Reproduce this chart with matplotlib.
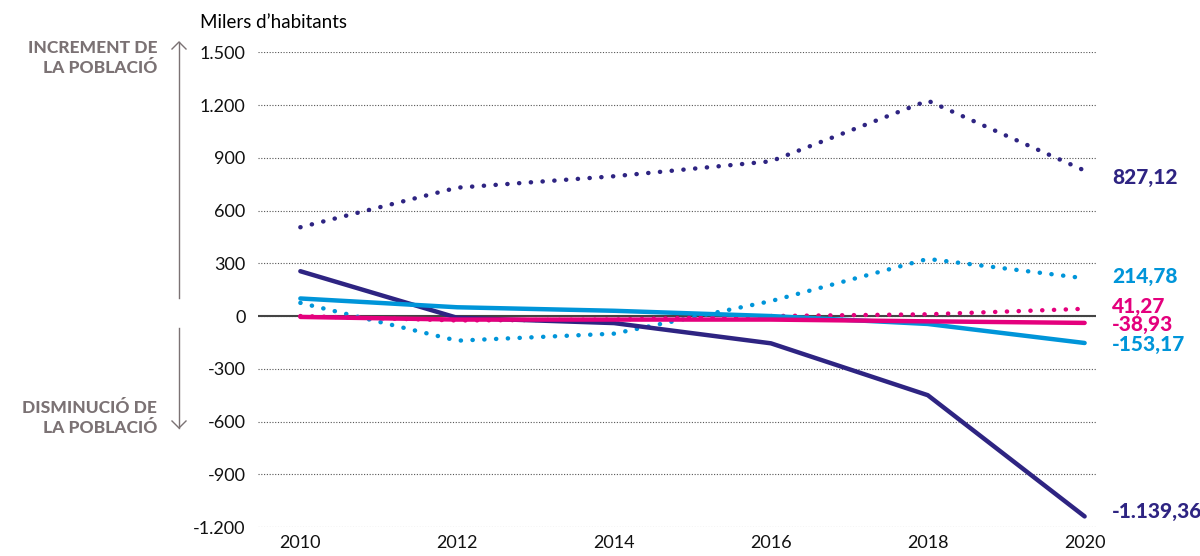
import numpy as np
import matplotlib.pyplot as plt
from matplotlib.ticker import FuncFormatter

plt.rcParams['font.family'] = ['Lato', 'DejaVu Sans']

# dades (milers d'habitants)
anys = [2010, 2012, 2014, 2016, 2018, 2020]
lila_punts = [505, 730, 795, 880, 1225, 827.12]
lila_linia = [255, -10, -40, -155, -450, -1139.36]
blau_punts = [75, -140, -100, 85, 325, 214.78]
blau_linia = [100, 50, 30, 0, -45, -153.17]
rosa_punts = [0, -25, -20, 0, 10, 41.27]
rosa_linia = [-5, -20, -20, -20, -30, -38.93]

etiquetes = ["827,12", "214,78", "41,27", "-38,93", "-153,17", "-1.139,36"]
pos_etiq = [790, 225, 55, -48, -160, -1110]

lila = '#2e2482'
blau = '#0095d9'
rosa = '#e4007d'
gris = '#7b7274'

fig = plt.figure(figsize=(12, 5.56), dpi=100)
ax = fig.add_axes([0.215, 0.052, 0.698, 0.854])

punts = (0, (0.05, 2.6))
ax.plot(anys, lila_punts, color=lila, lw=3.2, ls=punts, dash_capstyle='round', clip_on=False, zorder=3)
ax.plot(anys, blau_punts, color=blau, lw=3.2, ls=punts, dash_capstyle='round', clip_on=False, zorder=3)
ax.plot(anys, rosa_punts, color=rosa, lw=3.2, ls=punts, dash_capstyle='round', clip_on=False, zorder=3)
ax.plot(anys, lila_linia, color=lila, lw=3.2, solid_capstyle='round', clip_on=False, zorder=4)
ax.plot(anys, blau_linia, color=blau, lw=3.2, solid_capstyle='round', clip_on=False, zorder=4)
ax.plot(anys, rosa_linia, color=rosa, lw=3.2, solid_capstyle='round', clip_on=False, zorder=4)

colors_etiq = [lila, blau, rosa, rosa, blau, lila]
for txt, y, c in zip(etiquetes, pos_etiq, colors_etiq):
    ax.text(2020.35, y, txt, color=c, fontsize=15, fontweight='black',
            va='center', ha='left', clip_on=False)

ax.set_xlim(2009.46, 2020.14)
ax.set_ylim(-1200, 1500)
ax.set_xticks(anys)
ax.set_yticks(np.arange(-1200, 1501, 300))
ax.yaxis.set_major_formatter(FuncFormatter(lambda v, p: f"{int(v):,}".replace(",", ".")))
ax.tick_params(length=0, labelsize=13, colors='#111111')
ax.tick_params(axis='y', pad=9)
ax.tick_params(axis='x', pad=6)
for s in ax.spines.values():
    s.set_visible(False)
ax.grid(axis='y', color='#555555', ls=(0, (1, 1.5)), lw=0.8)
ax.axhline(0, color='#444444', lw=1.5, zorder=2)

fig.text(200/1200, 1 - 22/556, "Milers d\u2019habitants", fontsize=13.5, va='center', ha='left')

# fletxes laterals
fig.text(157/1200, 1 - 58/556, "INCREMENT DE\nLA POBLACIÓ", color=gris, fontsize=12.5,
         fontweight='black', ha='right', va='center', linespacing=1.3)
fig.text(157/1200, 1 - 418/556, "DISMINUCIÓ DE\nLA POBLACIÓ", color=gris, fontsize=12.5,
         fontweight='black', ha='right', va='center', linespacing=1.3)
fig.add_artist(plt.Line2D([179/1200, 179/1200], [1 - 298/556, 1 - 42/556], color=gris, lw=1))
fig.add_artist(plt.Line2D([172/1200, 179/1200, 186/1200], [1 - 49/556, 1 - 42/556, 1 - 49/556], color=gris, lw=1))
fig.add_artist(plt.Line2D([179/1200, 179/1200], [1 - 328/556, 1 - 428/556], color=gris, lw=1))
fig.add_artist(plt.Line2D([172/1200, 179/1200, 186/1200], [1 - 421/556, 1 - 428/556, 1 - 421/556], color=gris, lw=1))

fig.savefig('out.png', dpi=100)
